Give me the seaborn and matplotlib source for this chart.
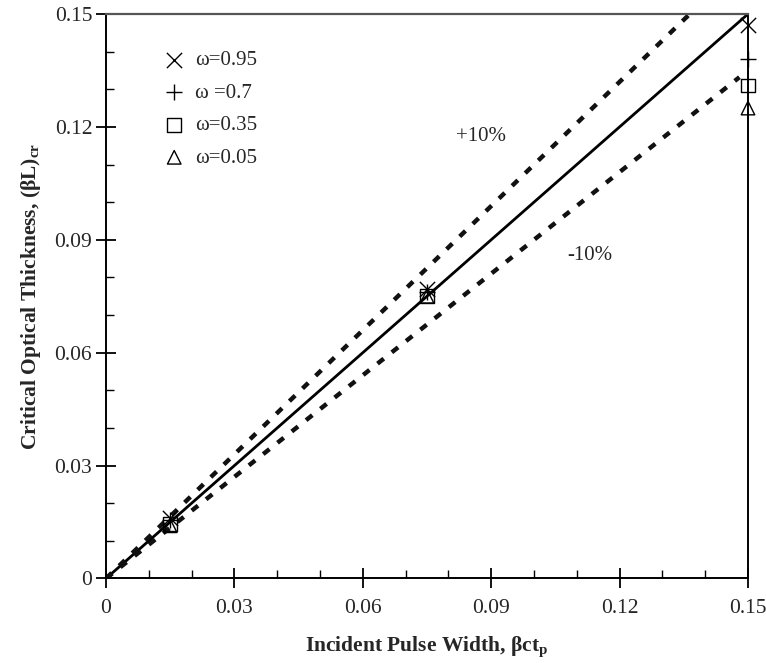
import numpy as np
import pandas as pd
import matplotlib
matplotlib.use("Agg")
import matplotlib.pyplot as plt
import seaborn as sns
from matplotlib.ticker import MultipleLocator

sns.set_theme(style="white")
plt.rcParams['font.family'] = ['Liberation Serif', 'DejaVu Serif']
plt.rcParams['mathtext.fontset'] = 'custom'
plt.rcParams['mathtext.rm'] = 'Liberation Serif'
plt.rcParams['mathtext.bf'] = 'Liberation Serif:bold'
plt.rcParams['mathtext.it'] = 'Liberation Serif:italic'

# Data
pulse_width = [0.015, 0.075, 0.15]
omega_labels = ["ω=0.95", "ω =0.7", "ω=0.35", "ω=0.05"]
thick_095 = [0.016, 0.077, 0.147]
thick_07 = [0.0155, 0.076, 0.138]
thick_035 = [0.0145, 0.075, 0.131]
thick_005 = [0.014, 0.075, 0.125]
ref_x = [0.0, 0.15]
ref_y = [0.0, 0.15]
plus10_x = [0.0, 0.1364]
plus10_y = [0.0, 0.15]
minus10_x = [0.0, 0.148]
minus10_y = [0.0, 0.1332]
xticks = [0, 0.03, 0.06, 0.09, 0.12, 0.15]
tick_labels = ["0", "0.03", "0.06", "0.09", "0.12", "0.15"]

fig = plt.figure(figsize=(7.66, 6.63), dpi=100)
ax = fig.add_axes([0.1384, 0.1275, 0.8381, 0.8514])

dash = (0, (1.8, 2.3))
sns.lineplot(x=ref_x, y=ref_y, ax=ax, color='black', lw=2.0)
sns.lineplot(x=plus10_x, y=plus10_y, ax=ax, color='#111111', lw=3.2)
sns.lineplot(x=minus10_x, y=minus10_y, ax=ax, color='#111111', lw=3.2)
for l in ax.lines[1:]:
    l.set_linestyle(dash)

series = [thick_095, thick_07, thick_035, thick_005]
markers = ['x', '+', 's', '^']
for vals, m, lab in zip(series, markers, omega_labels):
    if m in ('x', '+'):
        sns.scatterplot(x=pulse_width, y=vals, ax=ax, marker=m, s=120,
                        color='black', linewidth=1.0, label=lab, zorder=5,
                        clip_on=False)
    else:
        sns.scatterplot(x=pulse_width, y=vals, ax=ax, marker=m, s=95,
                        facecolor='none', edgecolor='black', linewidth=1.0,
                        label=lab, zorder=5, clip_on=False)

ax.set_xlim(0, 0.15)
ax.set_ylim(0, 0.15)
ax.set_xticks(xticks)
ax.set_xticklabels(tick_labels)
ax.set_yticks(xticks)
ax.set_yticklabels(tick_labels)
ax.xaxis.set_minor_locator(MultipleLocator(0.01))
ax.yaxis.set_minor_locator(MultipleLocator(0.01))
ax.tick_params(axis='both', which='major', direction='inout', length=14,
               width=1.3, color='black', labelsize=15.5,
               bottom=True, left=True, top=False, right=False)
ax.tick_params(axis='both', which='minor', direction='in', length=6,
               width=1.0, color='black', bottom=True, left=True,
               top=False, right=False)
ax.tick_params(axis='x', which='major', pad=8)
ax.tick_params(axis='y', which='major', pad=3)

for side in ['left', 'bottom', 'right']:
    ax.spines[side].set_color('black')
    ax.spines[side].set_linewidth(1.4)
ax.spines['top'].set_color('#555555')
ax.spines['top'].set_linewidth(1.6)

ax.set_xlabel(r"Incident Pulse Width, $\mathbf{\beta ct_p}$", fontsize=15.5,
              fontweight='bold', labelpad=12)
ax.set_ylabel(r"Critical Optical Thickness, $\mathbf{(\beta L)_{cr}}$", fontsize=15.5,
              fontweight='bold', labelpad=8)

ax.text(0.0875, 0.1174, "+10%", fontsize=15, ha='center', va='center')
ax.text(0.113, 0.0859, "-10%", fontsize=15, ha='center', va='center')

leg = ax.legend(loc='upper left', bbox_to_anchor=(0.09, 0.935), frameon=False,
                fontsize=15, handletextpad=0.5, labelspacing=0.62,
                handlelength=1.0, borderaxespad=0, borderpad=0)

fig.savefig("out.png", dpi=100)
